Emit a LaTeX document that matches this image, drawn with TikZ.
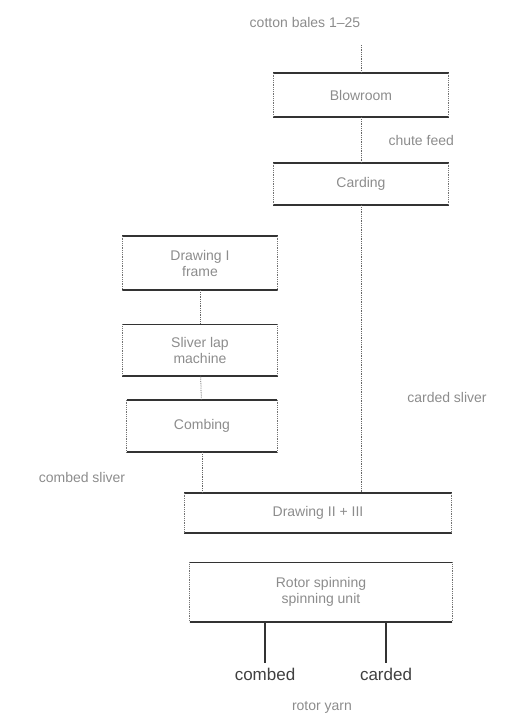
\documentclass[tikz,border=0pt]{standalone}
\usepackage{fontspec}
\setmainfont{Liberation Sans}
\usetikzlibrary{positioning}
\newcommand\frbox[1]{\draw[line width=1.6pt,black!80](#1.north west)--(#1.north east)(#1.south west)--(#1.south east);\draw[densely dotted,black!55,thick](#1.north west)--(#1.south west)(#1.north east)--(#1.south east);}
\begin{document}
\begin{tikzpicture}[x=1pt,y=-1pt,every node/.style={font=\fontsize{14}{16}\selectfont,text=black!45},
  stage/.style={minimum width=#1,inner sep=0pt,align=center},
  link/.style={densely dotted,thick,black!60},yarn/.style={line width=1.4pt,black!80}]
\useasboundingbox(0,0)rectangle(513,718);
\node(bales)at(305,22){cotton bales 1--25};
\coordinate(feed)at(361,45);
\node[stage=175,minimum height=44](blow)at(361,95){Blowroom};
\node[stage=175,minimum height=42](card)at(361,184){Carding};
\node[stage=155,minimum height=54](drawf)at(200,263){Drawing I\\frame};
\node[stage=155,minimum height=51](lap)at(200,350){Sliver lap\\machine};
\node[stage=150,minimum height=52](comb)at(202,426){Combing};
\node[stage=267,minimum height=40](draw2)at(318,513){Drawing II + III};
\node[stage=262,minimum height=59](rotor)at(321,592){Rotor spinning\\spinning unit};
\frbox{blow}\frbox{card}\frbox{drawf}\frbox{lap}\frbox{comb}\frbox{draw2}\frbox{rotor}
\draw[link](feed)--(blow.north);\draw[link](blow)--(card);
\node[anchor=west](chute)at(385,140){chute feed};
\draw[link](drawf)--(lap);\draw[link](lap)--(comb);
\draw[link](comb.south)--(comb.south|-draw2.north);
\draw[link](card.south)--(card.south|-draw2.north);
\node(csl)at(82,477){combed sliver};\node(dsl)at(447,397){carded sliver};
\coordinate(c1)at(265,663);\coordinate(c2)at(386,663);
\draw[yarn](rotor.south-|c1)--(c1);\draw[yarn](rotor.south-|c2)--(c2);
\node[below=2pt of c1,text=black!75,font=\fontsize{17}{19}\selectfont](combed){combed};
\node[below=2pt of c2,text=black!75,font=\fontsize{17}{19}\selectfont](carded){carded};
\node(ryarn)at(322,707){rotor yarn};
\end{tikzpicture}
\end{document}
